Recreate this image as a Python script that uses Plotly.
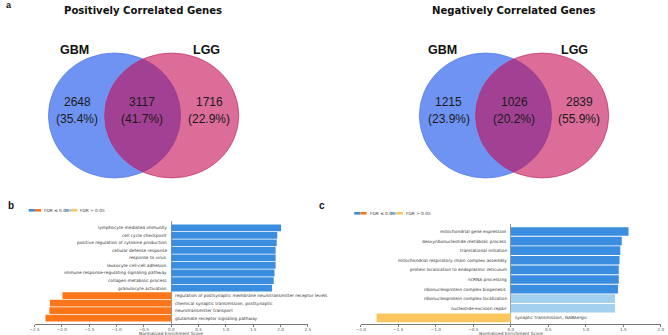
import plotly.graph_objects as go

# ---------------- data ----------------
venn_titles = ["Positively Correlated Genes", "Negatively Correlated Genes"]
set_names = ["GBM", "LGG"]
pos_counts = [2648, 3117, 1716]
pos_pcts = ["35.4%", "41.7%", "22.9%"]
neg_counts = [1215, 1026, 2839]
neg_pcts = ["23.9%", "20.2%", "55.9%"]

b_terms = [
    "lymphocyte mediated immunity",
    "cell cycle checkpoint",
    "positive regulation of cytokine production",
    "cellular defense response",
    "response to virus",
    "leukocyte cell-cell adhesion",
    "immune response-regulating signaling pathway",
    "collagen metabolic process",
    "granulocyte activation",
    "regulation of postsynaptic membrane neurotransmitter receptor levels",
    "chemical synaptic transmission, postsynaptic",
    "neurotransmitter transport",
    "glutamate receptor signaling pathway",
]
b_nes = [2.01, 1.94, 1.93, 1.91, 1.91, 1.91, 1.89, 1.875, 1.845, -1.99, -2.22, -2.23, -2.30]
b_sig = [True] * 13

c_terms = [
    "mitochondrial gene expression",
    "deoxyribonucleotide metabolic process",
    "translational initiation",
    "mitochondrial respiratory chain complex assembly",
    "protein localization to endoplasmic reticulum",
    "ncRNA processing",
    "ribonucleoprotein complex biogenesis",
    "ribonucleoprotein complex localization",
    "nucleotide-excision repair",
    "synaptic transmission, GABAergic",
]
c_nes = [1.57, 1.48, 1.46, 1.45, 1.44, 1.44, 1.43, 1.39, 1.39, -1.79]
c_sig = [True, True, True, True, True, True, True, False, False, False]

b_ticks = [-2.5, -2.0, -1.5, -1.0, -0.5, 0.0, 0.5, 1.0, 1.5, 2.0, 2.5]
c_ticks = [-2.0, -1.5, -1.0, -0.5, 0.0, 0.5, 1.0, 1.5, 2.0]
legend_labels = ["FDR \u2264 0.05", "FDR > 0.05"]
axis_title = "Normalized Enrichment Score"

# ---------------- styling ----------------
W, H = 668, 335
BLUE, ORANGE, LBLUE, YELLOW = "#3b8ddf", "#fd7519", "#a4d0f0", "#fcc65e"
VBLUE, VPINK = "#6e93f2", "rgba(196,10,84,0.6)"
SMALL = "Verdana, DejaVu Sans, sans-serif"
B_X = (30, 307)       # pixel span of panel b x axis
C_X = (360.7, 664.7)  # pixel span of panel c x axis


def bar_color(v, s):
    if s:
        return BLUE if v > 0 else ORANGE
    return LBLUE if v > 0 else YELLOW


def ydom(top_px, bot_px):
    return [1 - bot_px / H, 1 - top_px / H]


fig = go.Figure()

fig.add_trace(go.Bar(
    x=b_nes, y=b_terms, orientation="h",
    marker=dict(color=[bar_color(v, s) for v, s in zip(b_nes, b_sig)], line=dict(width=0)),
    xaxis="x", yaxis="y", showlegend=False, hoverinfo="x+y"))
fig.add_trace(go.Bar(
    x=c_nes, y=c_terms, orientation="h",
    marker=dict(color=[bar_color(v, s) for v, s in zip(c_nes, c_sig)], line=dict(width=0)),
    xaxis="x2", yaxis="y2", showlegend=False, hoverinfo="x+y"))

tickfont = dict(family=SMALL, size=4.2, color="#555")
xcommon = dict(showgrid=False, zeroline=True, zerolinecolor="#9a9a9a", zerolinewidth=1,
               showline=True, linecolor="#777", linewidth=1, ticks="outside", ticklen=1.5,
               tickcolor="#777", tickfont=tickfont, tickformat=".1f", ticklabelstandoff=-1)
ycommon = dict(showgrid=False, zeroline=False, showline=False, showticklabels=False,
               ticks="", type="category")

annotations = []
shapes = []

# bar labels
for terms, vals, xr, yr in [(b_terms, b_nes, "x", "y"), (c_terms, c_nes, "x2", "y2")]:
    for t, v in zip(terms, vals):
        annotations.append(dict(
            x=0, y=t, xref=xr, yref=yr, text=t, showarrow=False,
            xanchor="right" if v > 0 else "left", xshift=-2 if v > 0 else 2,
            font=dict(family=SMALL, size=4.3, color="#333")))

# axis titles (centered under x=0 of each axis)
for (x0, x1), rng in [(B_X, (-2.5, 2.5)), (C_X, (-2.0, 2.0))]:
    xc = x0 + (0 - rng[0]) / (rng[1] - rng[0]) * (x1 - x0)
    annotations.append(dict(x=xc, y=333.8, xref="x3", yref="y3", text=axis_title, showarrow=False,
                            font=dict(family=SMALL, size=4.3, color="#444")))

# venn diagrams (pixel space axis x3/y3)
venn_specs = [
    dict(title=venn_titles[0], tx=140, c1=(111, 115.5, 67), c2=(169, 115.5, 68),
         lab=(70, 204), nums=(73, 139, 207), counts=pos_counts, pcts=pos_pcts),
    dict(title=venn_titles[1], tx=516, c1=(487, 115.5, 67), c2=(544.5, 115.5, 67.5),
         lab=(443, 577), nums=(450, 516, 582), counts=neg_counts, pcts=neg_pcts),
]
RY = 62.5
for vs in venn_specs:
    cx, cy, rx = vs["c1"]
    shapes.append(dict(type="circle", xref="x3", yref="y3", x0=cx - rx, x1=cx + rx,
                       y0=cy - RY, y1=cy + RY, fillcolor=VBLUE,
                       line=dict(color="#5a80e8", width=0.8)))
    cx, cy, rx = vs["c2"]
    shapes.append(dict(type="circle", xref="x3", yref="y3", x0=cx - rx, x1=cx + rx,
                       y0=cy - RY, y1=cy + RY, fillcolor=VPINK,
                       line=dict(color="rgba(190,40,100,0.8)", width=0.8)))
    annotations.append(dict(x=vs["tx"], y=10, xref="x3", yref="y3", text="<b>%s</b>" % vs["title"],
                            showarrow=False, font=dict(family="DejaVu Sans, Verdana, sans-serif",
                                                       size=10.1, color="#111")))
    for name, lx in zip(set_names, vs["lab"]):
        annotations.append(dict(x=lx, y=50, xref="x3", yref="y3", text="<b>%s</b>" % name,
                                showarrow=False, font=dict(family="Liberation Sans, Arial, sans-serif",
                                                           size=12.5, color="#111")))
    for n, p, nx in zip(vs["counts"], vs["pcts"], vs["nums"]):
        annotations.append(dict(x=nx, y=102, xref="x3", yref="y3", text=str(n), showarrow=False,
                                font=dict(family="Liberation Sans, Arial, sans-serif", size=12, color="#1a1a1a")))
        annotations.append(dict(x=nx, y=119, xref="x3", yref="y3", text="(%s)" % p, showarrow=False,
                                font=dict(family="Liberation Sans, Arial, sans-serif", size=12, color="#1a1a1a")))

# panel letters
for letter, lx, ly, sz in [("a", 4, 5, 9), ("b", 6, 205, 10), ("c", 321, 205, 10)]:
    annotations.append(dict(x=lx, y=ly, xref="x3", yref="y3", text="<b>%s</b>" % letter,
                            showarrow=False, font=dict(family="Liberation Sans, Arial, sans-serif",
                                                       size=sz, color="#111")))

# custom legends
for lx0, ly in [(24, 210.3), (354, 213.3)]:
    x = lx0
    for lab, cols in zip(legend_labels, [(BLUE, ORANGE), (LBLUE, YELLOW)]):
        for col in cols:
            shapes.append(dict(type="rect", xref="x3", yref="y3", x0=x, x1=x + 6.3,
                               y0=ly - 1.3, y1=ly + 1.3, fillcolor=col, line=dict(width=0)))
            x += 6.3
        annotations.append(dict(x=x + 1, y=ly, xref="x3", yref="y3", text=lab, showarrow=False,
                                xanchor="left",
                                font=dict(family=SMALL, size=4.3, color="#444")))
        x += 24

fig.update_layout(
    width=W, height=H, margin=dict(l=0, r=0, t=0, b=0),
    paper_bgcolor="white", plot_bgcolor="rgba(0,0,0,0)",
    bargap=0.1, showlegend=False,
    xaxis=dict(domain=[B_X[0] / W, B_X[1] / W], range=[-2.5, 2.5], tickvals=b_ticks, anchor="y", **xcommon),
    yaxis=dict(domain=ydom(221, 324), range=[12.77, -0.9], anchor="x", **ycommon),
    xaxis2=dict(domain=[C_X[0] / W, C_X[1] / W], range=[-2.0, 2.0], tickvals=c_ticks, anchor="y2", **xcommon),
    yaxis2=dict(domain=ydom(224, 324), range=[9.64, -0.78], anchor="x2", **ycommon),
    xaxis3=dict(domain=[0, 1], range=[0, W], visible=False, anchor="y3", fixedrange=True),
    yaxis3=dict(domain=[0, 1], range=[H, 0], visible=False, anchor="x3", fixedrange=True),
    shapes=shapes, annotations=annotations,
)

fig.write_html("out.html", config={"displayModeBar": False},
               post_script="document.body.style.margin='0px';document.body.style.overflow='hidden';")
